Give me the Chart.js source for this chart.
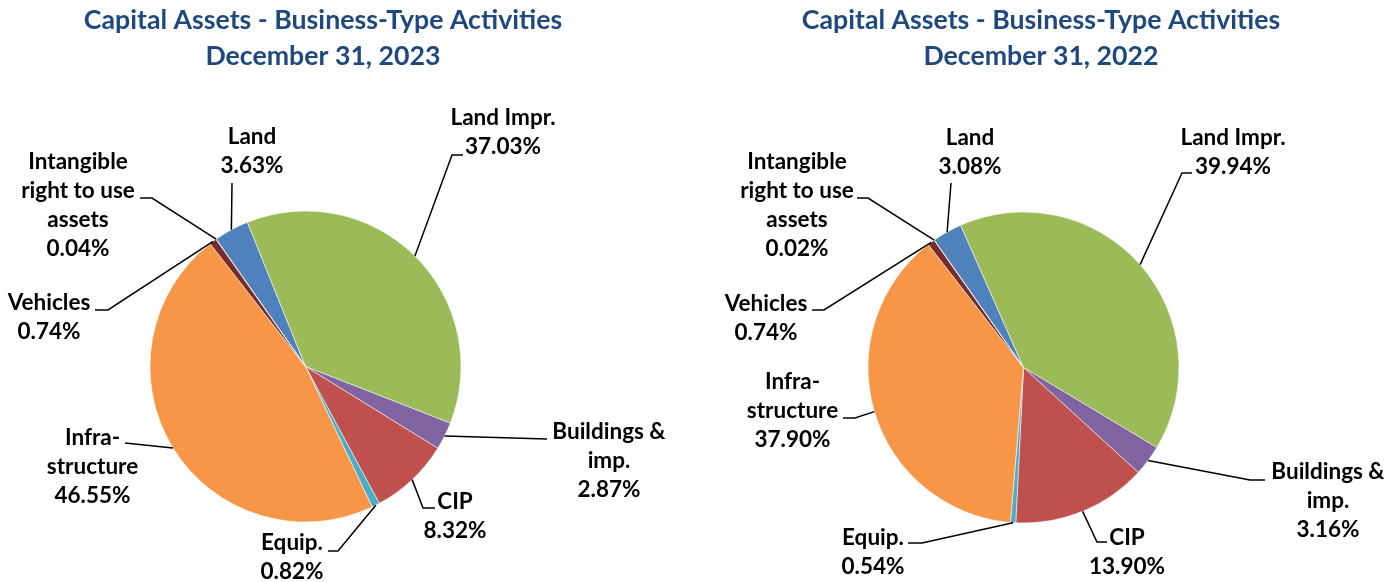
<!DOCTYPE html>
<html>
<head>
<meta charset="utf-8">
<script src="https://cdn.jsdelivr.net/npm/chart.js@4"></script>
<style>
  body { margin: 0; background: #fff; }
  #contenedor { position: relative; width: 1396px; height: 582px; }
  .pie { position: absolute; top: 0; width: 678px; height: 582px; }
</style>
</head>
<body>
<div id="contenedor">
  <div class="pie" style="left:0px"><canvas id="chart_2023"></canvas></div>
  <div class="pie" style="left:718px"><canvas id="chart_2022"></canvas></div>
</div>
<script>
// categories, each as the lines shown on the chart
const categorias = [
    ["Land"],
    ["Land Impr."],
    ["Buildings &", "imp."],
    ["CIP"],
    ["Equip."],
    ["Infra-", "structure"],
    ["Vehicles"],
    ["Intangible", "right to use", "assets"]
]
// percent of total, as printed on the slices
const valores_2023 = [3.63, 37.03, 2.87, 8.32, 0.82, 46.55, 0.74, 0.04]
const valores_2022 = [3.08, 39.94, 3.16, 13.90, 0.54, 37.90, 0.74, 0.02]

const titulos_2023 = ["Capital Assets - Business-Type Activities", "December 31, 2023"]
const titulos_2022 = ["Capital Assets - Business-Type Activities", "December 31, 2022"]

const colores = ["#4F81BD", "#9BBB59", "#8064A2", "#C0504D", "#4BACC6", "#F79646", "#772C2A", "#2C4D75"]

// label placement, relative to the pie centre: text [x, first line y], attach point, elbow point
const etiquetas_2023 = [
    { txt: [-53.5, -229.5], att: [-73.5, -183.5], elb: null },
    { txt: [197.5, -248.5], att: [157.5, -211.5], elb: [146.5, -211.5] },
    { txt: [303.5, 65.5], att: [241.5, 72.5], elb: null },
    { txt: [149.5, 135.5], att: [129.5, 141.5], elb: [117.5, 141.5] },
    { txt: [-13.5, 176.5], att: [22.5, 184.5], elb: [32.5, 184.5] },
    { txt: [-213, 71.5], att: [-180.5, 76.5], elb: null },
    { txt: [-256.5, -63.5], att: [-210.5, -56.5], elb: [-197.5, -56.5] },
    { txt: [-227.5, -204.5], att: [-165.5, -168.5], elb: [-153.5, -168.5] }
]
const etiquetas_2022 = [
    { txt: [-53.5, -229.5], att: [-72.5, -184.5], elb: null },
    { txt: [209.5, -229.5], att: [168.5, -194.5], elb: [158.5, -194.5] },
    { txt: [304.5, 104.5], att: [241.5, 112.5], elb: [226.5, 112.5] },
    { txt: [103.5, 170.5], att: [83.5, 174.5], elb: [73.5, 174.5] },
    { txt: [-150.5, 170.5], att: [-115.5, 175.5], elb: [-101.5, 175.5] },
    { txt: [-231, 14.5], att: [-180.5, 50.5], elb: [-168.5, 50.5] },
    { txt: [-257.5, -63.5], att: [-211.5, -57.5], elb: [-199.5, -57.5] },
    { txt: [-226.5, -205.5], att: [-166.5, -169.5], elb: [-155.5, -169.5] }
]

const fuente = "Lato, 'Open Sans', sans-serif"

// draws the titles, the outside labels and their leader lines
const plugin_etiquetas = {
    id: "etiquetas",
    afterDraw(chart, args, opts) {
        const ctx = chart.ctx
        const meta = chart.getDatasetMeta(0)
        const valores = chart.data.datasets[0].data
        const cx = meta.data[0].x
        const cy = meta.data[0].y
        ctx.save()
        // title
        ctx.fillStyle = "#1F497D"
        ctx.font = "bold 26.7px " + fuente
        ctx.textAlign = "center"
        ctx.textBaseline = "middle"
        opts.titulos.forEach(function (t, i) {
            ctx.fillText(t, cx + 17.5, 20 + i * 36)
        })
        // labels
        ctx.fillStyle = "#000"
        ctx.strokeStyle = "#000"
        ctx.lineWidth = 1.5
        ctx.font = "bold 22.5px " + fuente
        meta.data.forEach(function (arc, i) {
            const pos = opts.posiciones[i]
            const mid = (arc.startAngle + arc.endAngle) / 2
            const ex = arc.x + Math.cos(mid) * arc.outerRadius
            const ey = arc.y + Math.sin(mid) * arc.outerRadius
            ctx.beginPath()
            ctx.moveTo(cx + pos.att[0], cy + pos.att[1])
            if (pos.elb) ctx.lineTo(cx + pos.elb[0], cy + pos.elb[1])
            ctx.lineTo(ex, ey)
            ctx.stroke()
            const lineas = chart.data.labels[i].concat([valores[i].toFixed(2) + "%"])
            lineas.forEach(function (l, j) {
                ctx.fillText(l, cx + pos.txt[0], cy + pos.txt[1] + j * 29)
            })
        })
        ctx.restore()
    }
}

function crear_grafico(id, valores, titulos, posiciones, arriba, abajo) {
    const $grafica = document.querySelector(`#${id}`)
    new Chart($grafica, {
        type: "pie",
        data: {
            labels: categorias,
            datasets: [{
                data: valores,
                backgroundColor: colores,
                borderColor: "rgba(255, 255, 255, 0.7)",
                borderWidth: 0.75,
                radius: 155.5
            }]
        },
        options: {
            responsive: true,
            maintainAspectRatio: false,
            animation: false,
            rotation: -35,
            layout: {
                padding: { left: 150, right: 217, top: arriba, bottom: abajo }
            },
            plugins: {
                legend: { display: false },
                tooltip: { enabled: false },
                etiquetas: { titulos: titulos, posiciones: posiciones }
            }
        },
        plugins: [plugin_etiquetas]
    })
}

crear_grafico("chart_2023", valores_2023, titulos_2023, etiquetas_2023, 211, 60)
crear_grafico("chart_2022", valores_2022, titulos_2022, etiquetas_2022, 212, 59)
</script>
</body>
</html>
